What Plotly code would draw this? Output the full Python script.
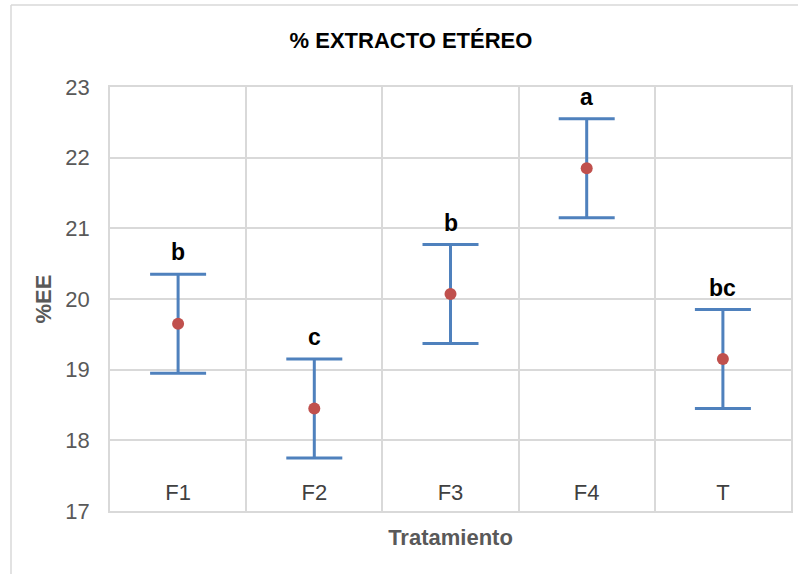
import plotly.graph_objects as go

categories = ["F1", "F2", "F3", "F4", "T"]
means = [19.65, 18.45, 20.07, 21.85, 19.15]
errors = [0.70, 0.70, 0.70, 0.70, 0.70]
letters = ["b", "c", "b", "a", "bc"]
y_ticks = [17, 18, 19, 20, 21, 22, 23]
label_y = 17.23

FONT = "Liberation Sans Narrow, Arial Narrow, Liberation Sans, sans-serif"
xs = list(range(len(categories)))

fig = go.Figure()
fig.add_trace(go.Scatter(
    x=xs, y=means, mode="markers",
    marker=dict(color="#C0504D", size=12),
    error_y=dict(type="data", array=errors, visible=True,
                 color="#4F81BD", thickness=3, width=28),
    showlegend=False, hoverinfo="skip",
))
# category labels inside plot
fig.add_trace(go.Scatter(
    x=xs, y=[label_y] * len(xs), mode="text", text=categories,
    textfont=dict(family=FONT, size=22, color="#404040"),
    showlegend=False, hoverinfo="skip",
))
for x, m, e, l in zip(xs, means, errors, letters):
    fig.add_annotation(x=x, y=m + e, text="<b>%s</b>" % l, showarrow=False,
                       yanchor="bottom", yshift=7,
                       font=dict(family=FONT, size=23, color="#000000"))

fig.update_layout(
    width=798, height=574,
    margin=dict(l=110, r=7, t=87, b=63, autoexpand=False),
    paper_bgcolor="white", plot_bgcolor="white",
    title=dict(text="<b>% EXTRACTO ETÉREO</b>", x=0.515, xanchor="center",
               y=0.93, yanchor="middle",
               font=dict(family=FONT, size=22, color="#000000")),
    xaxis=dict(range=[-0.5, 4.5], tickvals=[0.5, 1.5, 2.5, 3.5],
               showticklabels=False, showgrid=True, gridcolor="#D9D9D9",
               gridwidth=1.5, showline=True, linecolor="#D9D9D9", linewidth=1.5,
               mirror=True, zeroline=False,
               title=dict(text="<b>Tratamiento</b>", standoff=18,
                          font=dict(family=FONT, size=22, color="#595959"))),
    yaxis=dict(range=[17, 23], tickvals=y_ticks, showgrid=True,
               gridcolor="#D9D9D9", gridwidth=1.5, showline=True,
               linecolor="#D9D9D9", linewidth=1.5, mirror=True, zeroline=False,
               ticklabelstandoff=14,
               tickfont=dict(family=FONT, size=22, color="#595959"),
               title=dict(text="<b>%EE</b>", standoff=8,
                          font=dict(family=FONT, size=22, color="#595959"))),
)
# outer chart border (left and top)
fig.add_shape(type="line", xref="paper", yref="paper",
              x0=(11 - 110) / 681, x1=(11 - 110) / 681,
              y0=-63 / 424, y1=1 + (87 - 5) / 424,
              line=dict(color="#D9D9D9", width=1.5))
fig.add_shape(type="line", xref="paper", yref="paper",
              x0=(11 - 110) / 681, x1=1.02,
              y0=1 + (87 - 5) / 424, y1=1 + (87 - 5) / 424,
              line=dict(color="#D9D9D9", width=1.5))
fig.write_html("out.html", config={"displayModeBar": False},
               post_script="document.body.style.margin='0';")
